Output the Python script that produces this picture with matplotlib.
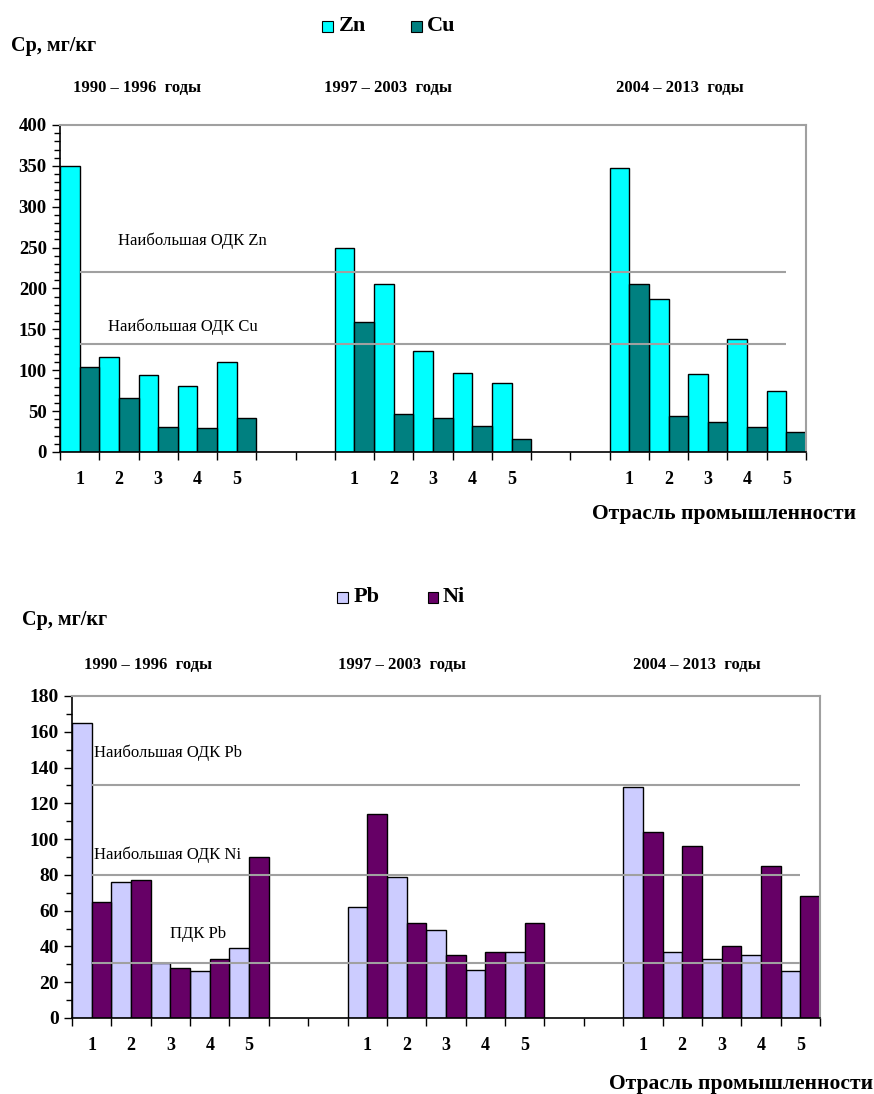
import matplotlib
matplotlib.use("Agg")
import matplotlib.pyplot as plt
from matplotlib.patches import Rectangle
from matplotlib.ticker import MultipleLocator
import numpy as np

plt.rcParams['font.family'] = ['Liberation Serif', 'DejaVu Serif']

# ---------------- data ----------------
industries = ["1", "2", "3", "4", "5"]
periods = ["1990 – 1996  годы", "1997 – 2003  годы", "2004 – 2013  годы"]

zn = [[350, 116, 94, 81, 110],
      [250, 205, 124, 97, 85],
      [348, 187, 95, 138, 75]]
cu = [[104, 66, 31, 29, 41],
      [159, 46, 41, 32, 16],
      [205, 44, 37, 30, 24]]
odk_zn = 220
odk_cu = 132

pb = [[165, 76, 31, 26, 39],
      [62, 79, 49, 27, 37],
      [129, 37, 33, 35, 26]]
ni = [[65, 77, 28, 33, 90],
      [114, 53, 35, 37, 53],
      [104, 96, 40, 85, 68]]
odk_pb = 130
odk_ni = 80
pdk_pb = 31

group_start = [0, 7, 14]   # category index where each period begins
n_cat = 19

fig = plt.figure(figsize=(8.74, 10.94), dpi=100)
W, H = 874, 1094


def px_axes(l, t, r, b):
    return fig.add_axes([l / W, 1 - b / H, (r - l) / W, (b - t) / H])


def draw_panel(ax, s1, s2, c1, c2, ymax, major, minor, ylab_size):
    for g, start in enumerate(group_start):
        x = np.arange(len(industries)) + start
        ax.bar(x - 0.25, s1[g], width=0.5, color=c1, edgecolor='black', linewidth=1.0, zorder=2)
        ax.bar(x + 0.25, s2[g], width=0.5, color=c2, edgecolor='black', linewidth=1.0, zorder=2)
    ax.set_xlim(-0.5, n_cat - 0.5)
    ax.set_ylim(0, ymax)
    ax.yaxis.set_major_locator(MultipleLocator(major))
    ax.yaxis.set_minor_locator(MultipleLocator(minor))
    ax.set_xticks(np.arange(-0.5, n_cat, 1.0), minor=True)
    centers = [start + i for start in group_start for i in range(len(industries))]
    ax.set_xticks(centers)
    ax.set_xticklabels(industries * 3, fontsize=13, fontweight='bold')
    ax.tick_params(axis='x', which='major', length=0, pad=14)
    ax.tick_params(axis='x', which='minor', length=6, width=1.0, direction='out', color='black')
    ax.tick_params(axis='y', which='major', length=6, width=1.0, direction='out', labelsize=ylab_size)
    ax.tick_params(axis='y', which='minor', length=4, width=1.0, direction='out')
    for lab in ax.get_yticklabels():
        lab.set_fontweight('bold')
    ax.spines['left'].set_color('black')
    ax.spines['bottom'].set_color('black')
    ax.spines['left'].set_linewidth(1.2)
    ax.spines['bottom'].set_linewidth(1.2)
    ax.spines['top'].set_color('#a0a0a0')
    ax.spines['right'].set_color('#a0a0a0')
    ax.spines['top'].set_linewidth(1.5)
    ax.spines['right'].set_linewidth(1.5)


def hline(ax, y):
    ax.plot([0, 18.0], [y, y], color='#a0a0a0', linewidth=1.5, zorder=3, solid_capstyle='butt')


# ---------------- top panel ----------------
ax1 = px_axes(60, 125, 806, 452)
draw_panel(ax1, zn, cu, '#00ffff', '#008080', 400, 50, 10, 13.5)
hline(ax1, odk_zn)
hline(ax1, odk_cu)
ax1.text(0.98, 259, "Наибольшая ОДК Zn", fontsize=12, va='center', ha='left', zorder=4)
ax1.text(0.72, 153, "Наибольшая ОДК Cu", fontsize=12, va='center', ha='left', zorder=4)

# ---------------- bottom panel ----------------
ax2 = px_axes(72, 696, 820, 1018)
draw_panel(ax2, pb, ni, '#ccccff', '#660066', 180, 20, 10, 14)
hline(ax2, odk_pb)
hline(ax2, odk_ni)
hline(ax2, pdk_pb)
ax2.text(0.06, 148, "Наибольшая ОДК Pb", fontsize=12, va='center', ha='left', zorder=4)
ax2.text(0.06, 91, "Наибольшая ОДК Ni", fontsize=12, va='center', ha='left', zorder=4)
ax2.text(1.99, 47, "ПДК Pb", fontsize=12, va='center', ha='left', zorder=4)

# ---------------- figure texts ----------------
def ftext(x, y, s, **kw):
    fig.text(x / W, 1 - y / H, s, **kw)

ftext(11, 46, "Ср, мг/кг", fontsize=14.5, fontweight='bold', va='center', ha='left')
ftext(22, 620, "Ср, мг/кг", fontsize=14.5, fontweight='bold', va='center', ha='left')

for cx, p in zip([137, 388, 680], periods):
    ftext(cx, 88, p, fontsize=12, fontweight='bold', va='center', ha='center')
for cx, p in zip([148, 402, 697], periods):
    ftext(cx, 665, p, fontsize=12, fontweight='bold', va='center', ha='center')

ftext(856, 514, "Отрасль промышленности", fontsize=15.5, fontweight='bold', va='center', ha='right')
ftext(873, 1084, "Отрасль промышленности", fontsize=15.5, fontweight='bold', va='center', ha='right')

# legends
def legend_item(x, y, color, label, tx):
    fig.patches.append(Rectangle(((x - 5.5) / W, 1 - (y + 5.5) / H), 11 / W, 11 / H,
                                 facecolor=color, edgecolor='black', linewidth=0.8,
                                 transform=fig.transFigure, figure=fig))
    ftext(tx, y, label, fontsize=16, fontweight='bold', va='center', ha='left')

legend_item(327, 26, '#00ffff', "Zn", 339)
legend_item(416, 26, '#008080', "Cu", 427)
legend_item(342, 597, '#ccccff', "Pb", 354)
legend_item(433, 597, '#660066', "Ni", 443)

fig.savefig("out.png", dpi=100)
